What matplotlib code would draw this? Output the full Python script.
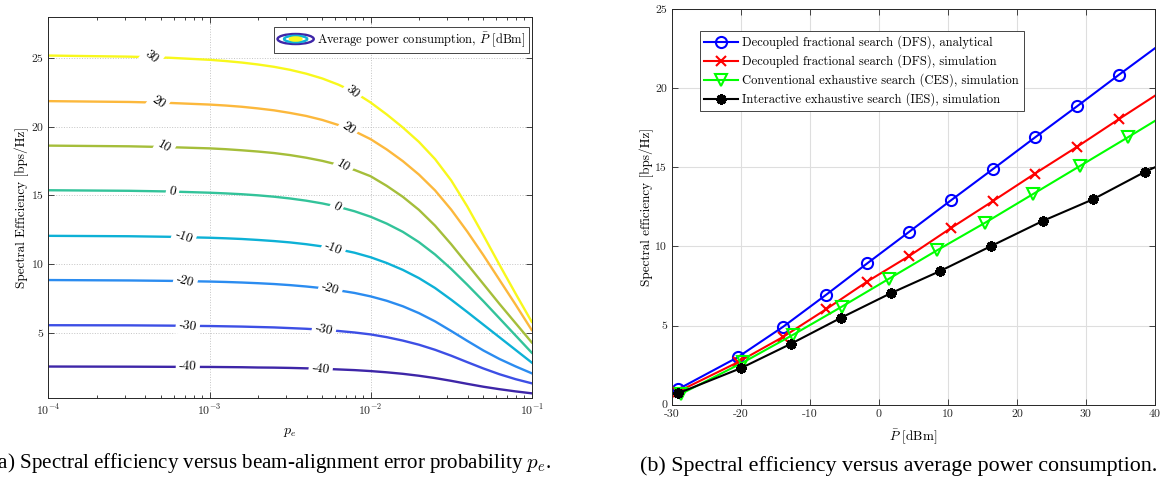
import numpy as np
import matplotlib
matplotlib.use('Agg')
import matplotlib.pyplot as plt
from matplotlib.legend_handler import HandlerBase
from matplotlib.patches import Ellipse, Patch
from matplotlib.ticker import LogLocator, MultipleLocator, NullFormatter

plt.rcParams['font.family'] = 'cmr10'
plt.rcParams['mathtext.fontset'] = 'cm'
plt.rcParams['axes.unicode_minus'] = False
plt.rcParams['axes.formatter.use_mathtext'] = False

# ---- (a) spectral efficiency vs p_e, one curve per average power level [dBm]
log_pe = np.array([-4, -3.5, -3.25, -3.0, -2.9, -2.8, -2.7, -2.6, -2.5, -2.4, -2.3, -2.2,
                   -2.1, -2.0, -1.9, -1.8, -1.7, -1.6, -1.5, -1.4, -1.3, -1.2, -1.1, -1.0])
levels = [-40, -30, -20, -10, 0, 10, 20, 30]
se_m40 = [2.54, 2.53, 2.52, 2.51, 2.50, 2.49, 2.47, 2.46, 2.44, 2.41, 2.38, 2.33,
          2.28, 2.21, 2.12, 2.01, 1.87, 1.70, 1.50, 1.28, 1.07, 0.89, 0.73, 0.59]
se_m30 = [5.55, 5.54, 5.52, 5.49, 5.47, 5.45, 5.42, 5.39, 5.34, 5.29, 5.22, 5.13,
          5.02, 4.88, 4.68, 4.43, 4.13, 3.76, 3.33, 2.86, 2.40, 1.98, 1.62, 1.32]
se_m20 = [8.84, 8.81, 8.78, 8.73, 8.70, 8.66, 8.61, 8.55, 8.47, 8.37, 8.25, 8.09,
          7.90, 7.65, 7.33, 6.93, 6.43, 5.83, 5.13, 4.41, 3.71, 3.09, 2.55, 2.05]
se_m10 = [12.06, 12.03, 11.99, 11.92, 11.88, 11.83, 11.76, 11.68, 11.58, 11.45, 11.29, 11.08,
          10.83, 10.50, 10.08, 9.58, 8.98, 8.26, 7.41, 6.51, 5.59, 4.67, 3.75, 2.83]
se_p0 = [15.38, 15.34, 15.29, 15.20, 15.15, 15.09, 15.01, 14.91, 14.78, 14.62, 14.42, 14.17,
         13.85, 13.45, 12.95, 12.35, 11.60, 10.70, 9.65, 8.50, 7.30, 6.05, 4.80, 3.55]
se_p10 = [18.63, 18.58, 18.52, 18.43, 18.37, 18.29, 18.20, 18.09, 17.94, 17.75, 17.52, 17.23,
          16.86, 16.40, 15.70, 14.90, 13.95, 12.80, 11.45, 10.00, 8.55, 7.10, 5.70, 4.30]
se_p20 = [21.87, 21.81, 21.74, 21.62, 21.55, 21.46, 21.34, 21.20, 21.01, 20.79, 20.50, 20.13,
          19.68, 19.10, 18.35, 17.50, 16.52, 15.37, 13.97, 12.37, 10.65, 8.85, 7.05, 5.20]
se_p30 = [25.19, 25.11, 25.03, 24.88, 24.79, 24.68, 24.54, 24.37, 24.15, 23.87, 23.52, 23.07,
          22.52, 21.77, 20.90, 19.95, 18.90, 17.65, 16.10, 14.20, 12.10, 9.95, 7.85, 5.80]
curves = [se_m40, se_m30, se_m20, se_m10, se_p0, se_p10, se_p20, se_p30]

# parula-like colours, low to high level
colors = ['#3e26a8', '#3d4fe5', '#2b8cf0', '#0db1d6', '#33c39a', '#a5be3a', '#fcb83c', '#f8f81c']

# inline label positions (log10 p_e) and rotations
lab_a = [-3.135, -3.135, -3.15, -3.16, -3.23, -3.28, -3.32, -3.36]
lab_b = [-2.31, -2.29, -2.25, -2.23, -2.21, -2.17, -2.14, -2.11]
rot_a = [-3, -8, -15, -20, -12, -30, -35, -40]
rot_b = [-8, -12, -18, -22, -30, -32, -36, -40]

# ---- (b) spectral efficiency vs average power consumption
p_dfs = [-29.1, -20.5, -13.9, -7.7, -1.7, 4.4, 10.4, 16.5, 22.6, 28.7, 34.8, 40.0]
se_dfs_ana = [0.98, 2.99, 4.92, 6.93, 8.93, 10.93, 12.90, 14.88, 16.88, 18.85, 20.85, 22.52]
se_dfs_sim = [0.83, 2.67, 4.28, 6.02, 7.78, 9.40, 11.15, 12.86, 14.60, 16.29, 18.05, 19.52]
p_ces = [-28.7, -19.7, -12.4, -5.4, 1.5, 8.4, 15.4, 22.3, 29.2, 36.1, 40.0]
se_ces = [0.68, 2.67, 4.43, 6.19, 7.97, 9.75, 11.50, 13.30, 15.10, 16.90, 17.93]
p_ies = [-29.1, -20.0, -12.7, -5.5, 1.7, 8.9, 16.2, 23.7, 31.0, 38.5, 40.0]
se_ies = [0.72, 2.31, 3.86, 5.49, 7.04, 8.45, 10.01, 11.60, 12.97, 14.70, 15.00]

fig = plt.figure(figsize=(11.65, 4.82), dpi=100)
ax1 = fig.add_axes([0.0416, 0.1743, 0.4148, 0.7905])
ax2 = fig.add_axes([0.5768, 0.1604, 0.4146, 0.8210])

pe = 10.0 ** log_pe
for lev, se, c, xa, xb, ra, rb in zip(levels, curves, colors, lab_a, lab_b, rot_a, rot_b):
    ax1.plot(pe, se, color=c, lw=1.7, zorder=2)
    for lx, r in ((xa, ra), (xb, rb)):
        ly = np.interp(lx, log_pe, se)
        ax1.text(10 ** lx, ly, str(lev), fontsize=9.5, rotation=r, ha='center', va='center',
                 rotation_mode='anchor', zorder=3,
                 bbox=dict(boxstyle='square,pad=0.25', fc='white', ec='none'))

ax1.set_xscale('log')
ax1.set_xlim(1e-4, 1e-1)
ax1.set_ylim(0.25, 28)
ax1.yaxis.set_major_locator(MultipleLocator(5))
ax1.xaxis.set_major_locator(LogLocator(base=10, numticks=10))
ax1.xaxis.set_minor_locator(LogLocator(base=10, subs=np.arange(2, 10), numticks=20))
ax1.xaxis.set_minor_formatter(NullFormatter())
ax1.grid(True, which='major', ls=':', color='#c4c4c4', lw=0.7)
ax1.set_xlabel('$p_e$', fontsize=10, labelpad=6)
ax1.set_ylabel('Spectral Efficiency [bps/Hz]', fontsize=9.5, labelpad=2)


class ContourIcon(HandlerBase):
    def create_artists(self, legend, orig_handle, xdescent, ydescent, width, height, fontsize, trans):
        cx = width / 2 - xdescent
        cy = height / 2 - ydescent
        out = []
        for f, c, fill in ((1.0, colors[0], 'none'), (0.64, colors[3], 'none'), (0.32, colors[7], colors[7])):
            out.append(Ellipse((cx, cy), width * f, height * 1.15 * f, fc=fill, ec=c, lw=1.7,
                               transform=trans))
        return out


proxy = Patch()
leg1 = ax1.legend([proxy], [r'Average power consumption, $\bar{P}$ [dBm]'],
                  handler_map={Patch: ContourIcon()}, loc='upper right',
                  bbox_to_anchor=(0.9944, 0.974), borderaxespad=0, fontsize=9,
                  fancybox=False, edgecolor='#262626', framealpha=1, handlelength=2.9,
                  handletextpad=0.25, borderpad=0.3)
leg1.get_frame().set_linewidth(0.6)

# (b)
ax2.plot(p_dfs, se_dfs_ana, '-o', color='#0000ff', mfc='none', ms=8, mew=1.5, lw=1.5,
         markevery=list(range(len(p_dfs) - 1)), label='Decoupled fractional search (DFS), analytical')
ax2.plot(p_dfs, se_dfs_sim, '-x', color='#ff0000', ms=6.5, mew=1.5, lw=1.5,
         markevery=list(range(len(p_dfs) - 1)), label='Decoupled fractional search (DFS), simulation')
ax2.plot(p_ces, se_ces, '-v', color='#00ff00', mfc='none', ms=8.5, mew=1.5, lw=1.5,
         markevery=list(range(len(p_ces) - 1)), label='Conventional exhaustive search (CES), simulation')
ax2.plot(p_ies, se_ies, '-', marker=(8, 2, 0), color='black', ms=7.5, mew=2.0, lw=1.5,
         markevery=list(range(len(p_ies) - 1)), label='Interactive exhaustive search (IES), simulation')
ax2.set_xlim(-30, 40)
ax2.set_ylim(0, 25)
ax2.xaxis.set_major_locator(MultipleLocator(10))
ax2.yaxis.set_major_locator(MultipleLocator(5))
ax2.grid(True, color='#dedede', lw=0.8)
ax2.set_axisbelow(True)
ax2.set_xlabel(r'$\bar{P}$ [dBm]', fontsize=9.5, labelpad=6)
ax2.set_ylabel('Spectral efficiency [bps/Hz]', fontsize=9.5, labelpad=1)
leg2 = ax2.legend(loc='upper left', bbox_to_anchor=(0.058, 0.944), borderaxespad=0, fontsize=9,
                  fancybox=False, edgecolor='#262626', framealpha=1, handlelength=2.7,
                  handletextpad=0.35, borderpad=0.35, labelspacing=0.42)
leg2.get_frame().set_linewidth(0.6)

for ax in (ax1, ax2):
    ax.tick_params(which='both', direction='in', top=True, right=True, labelsize=8.5,
                   colors='#262626', width=0.6)
    ax.tick_params(which='major', length=4)
    ax.tick_params(which='minor', length=2)
    for s in ax.spines.values():
        s.set_linewidth(0.7)
        s.set_color('#262626')

fig.text(-0.008, 0.03, r'(a) Spectral efficiency versus beam-alignment error probability $p_e$.',
         family='Liberation Serif', fontsize=15.1, ha='left', va='baseline')
fig.text(0.7715, 0.022, '(b) Spectral efficiency versus average power consumption.',
         family='Liberation Serif', fontsize=15.8, ha='center', va='baseline')

fig.savefig('out.png', dpi=100)
